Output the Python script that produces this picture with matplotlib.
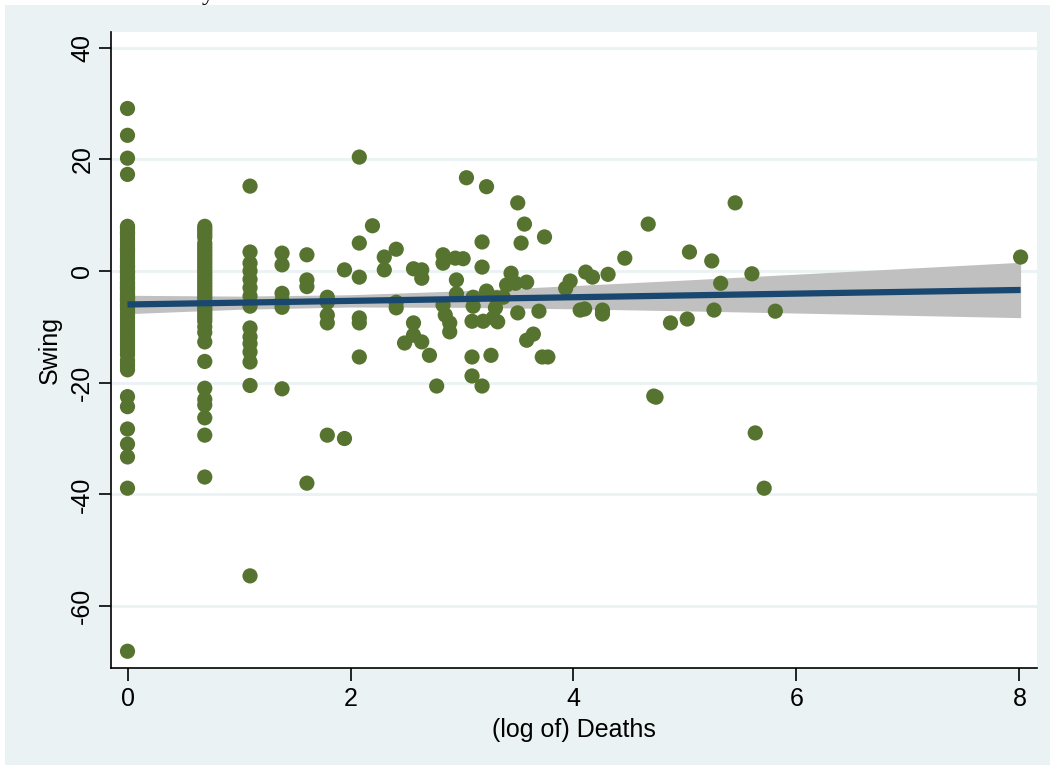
import numpy as np
import matplotlib
matplotlib.use("Agg")
import matplotlib.pyplot as plt
from matplotlib.patches import Rectangle
from matplotlib import font_manager as fm

# ---- data: log(deaths) and swing ----
x0_swing = [29.1, 24.3, 20.2, 17.3, 8, 7.8, 7.5, 7, 6.8, 6.5, 6, 5.5, 5, 4.5, 4, 3.8,
            3.5, 3, 2.5, 2, 1.5, 1, 0.8, 0.5, 0, -0.2,
            -0.5, -1, -1.2, -1.5, -2, -2.2, -2.5, -2.8, -3, -3.2, -3.5, -4, -4.2, -4.5,
            -4.8, -5, -5.2, -5.5, -6, -6.2, -6.5, -7, -7.5,
            -8, -8.5, -9, -9.5, -10, -10.5, -11, -11.5, -12, -12.5, -13, -13.5, -14,
            -14.5, -15, -16, -16.5, -17,
            -17.7, -22.5, -24.3, -28.3, -31, -33.3, -38.9, -68.1]
x1_swing = [8, 7.5, 7, 6.5, 6, 5, 4.5, 4, 3.5, 3, 2.5, 2, 1.5, 1, 0.5, 0, -0.5, -1,
            -1.5, -2, -2.5, -3, -3.5, -4, -4.5, -5, -5.5, -6, -6.5, -7, -7.5, -8,
            -8.5, -9, -10, -11, -12.7, -16.2, -21, -23, -24, -26.3, -29.4, -36.9]
x2_swing = [15.2, 3.4, 1.4, 0, -1.5, -3, -4.5, -6.3, -10.2, -11.8, -13, -14.5,
            -16.3, -20.5, -54.6]

other_x = [1.386, 1.386, 1.386, 1.386, 1.386, 1.386,
           1.609, 1.609, 1.609, 1.609,
           1.792, 1.792, 1.792, 1.792, 1.792,
           1.946, 1.946,
           2.079, 2.079, 2.079, 2.079, 2.079, 2.079,
           2.197, 2.303, 2.303, 2.41, 2.41, 2.41, 2.485,
           2.565, 2.565, 2.565, 2.639, 2.639, 2.639, 2.708, 2.773,
           2.83, 2.83, 2.83, 2.85, 2.89, 2.89, 2.94, 2.95, 2.95, 3.01,
           3.04, 3.09, 3.10, 3.10, 3.09, 3.09, 3.18, 3.18, 3.19, 3.18, 3.22, 3.22,
           3.26, 3.28, 3.31, 3.30, 3.32, 3.37, 3.40, 3.44, 3.48, 3.50, 3.50,
           3.53, 3.56, 3.58, 3.58, 3.64, 3.69, 3.72, 3.74, 3.77,
           3.93, 3.97, 4.06, 4.10, 4.11, 4.17, 4.26, 4.26, 4.31, 4.46, 4.67,
           4.72, 4.74, 4.87, 5.02, 5.04, 5.24, 5.26, 5.32, 5.45, 5.60, 5.63,
           5.71, 5.81, 8.01]
other_y = [3.2, 1.1, -4.0, -5.3, -6.5, -21.1,
           2.9, -1.6, -2.8, -38.0,
           -4.7, -5.6, -7.9, -9.3, -29.4,
           0.2, -30.0,
           20.4, 5.0, -1.1, -8.4, -9.3, -15.4,
           8.1, 2.5, 0.2, 3.9, -5.6, -6.6, -12.9,
           0.4, -9.3, -11.5, 0.2, -1.3, -12.7, -15.1, -20.6,
           2.9, 1.4, -6.1, -7.9, -9.3, -10.9, 2.3, -1.6, -4.1, 2.2,
           16.7, -9.0, -4.7, -6.3, -15.4, -18.8, 5.2, 0.7, -9.0, -20.6, 15.1, -3.6,
           -15.1, -8.4, -4.8, -6.6, -9.1, -4.7, -2.5, -0.4, -2.2, 12.2, -7.5,
           5.0, 8.4, -2.0, -12.4, -11.3, -7.2, -15.4, 6.1, -15.4,
           -3.1, -1.8, -7.0, -6.8, -0.2, -1.1, -7.0, -7.7, -0.6, 2.3, 8.4,
           -22.4, -22.6, -9.3, -8.6, 3.4, 1.8, -7.0, -2.2, 12.2, -0.5, -29.0,
           -38.9, -7.2, 2.5]

x_log2 = 0.693
x_log3 = 1.099

# fitted line and 95% CI band
fit_x = [0.0, 8.01]
fit_y = [-6.0, -3.4]
ci_x = [0.0, 1.0, 2.0, 3.0, 4.0, 5.0, 6.0, 7.0, 8.01]
ci_lo = [-7.65, -6.86, -6.45, -6.51, -6.78, -7.14, -7.53, -7.94, -8.36]
ci_hi = [-4.35, -4.50, -4.25, -3.55, -2.62, -1.62, -0.57, 0.49, 1.56]

xs = np.array([0.0] * len(x0_swing) + [x_log2] * len(x1_swing) + [x_log3] * len(x2_swing) + other_x)
ys = np.array(x0_swing + x1_swing + x2_swing + other_y)

# ---- fonts ----
avail = {f.name for f in fm.fontManager.ttflist}
fam = ['Liberation Sans Narrow', 'Liberation Sans', 'DejaVu Sans'] if 'Liberation Sans Narrow' in avail else ['Liberation Sans', 'DejaVu Sans']
plt.rcParams['font.family'] = fam
plt.rcParams['axes.unicode_minus'] = False

bg = '#EAF2F3'
W, H = 1050, 768
fig = plt.figure(figsize=(W / 100, H / 100), dpi=100, facecolor='white')
fig.patches.append(Rectangle((5 / W, 3 / H), 1 - 5 / W, 1 - 8 / H, transform=fig.transFigure,
                             facecolor=bg, edgecolor='none', zorder=-10))

ax = fig.add_axes([111 / W, 1 - 668 / H, (1037 - 111) / W, (668 - 32) / H])
ax.set_zorder(5)
ax.set_facecolor('white')

ax.fill_between(ci_x, ci_lo, ci_hi, color='#C0C0C0', lw=0, zorder=2)
ax.scatter(xs, ys, s=120, color='#56742F', edgecolors='none', zorder=3)
ax.plot(fit_x, fit_y, color='#1A476F', lw=4.5, solid_capstyle='butt', zorder=4)

ax.set_xlim(-0.148, 8.157)
ax.set_ylim(-71.1, 42.8)
ax.set_xticks([0, 2, 4, 6, 8])
ax.set_yticks([-60, -40, -20, 0, 20, 40])
ax.yaxis.grid(True, color=bg, lw=2, zorder=1)
ax.set_axisbelow(True)
for sp in ['top', 'right']:
    ax.spines[sp].set_visible(False)
for sp in ['left', 'bottom']:
    ax.spines[sp].set_color('black')
    ax.spines[sp].set_linewidth(1.2)
ax.tick_params(axis='both', direction='out', length=9, width=1.2, color='black',
               labelsize=18, pad=5)
ax.tick_params(axis='y', pad=3)
for lab in ax.get_yticklabels():
    lab.set_rotation(90)
    lab.set_va('center')

ax.set_xlabel('(log of) Deaths', fontsize=18, labelpad=5)
ax.set_ylabel('Swing', fontsize=18, labelpad=6)

fig.text(208 / W, 1.0, 'y', fontsize=18, ha='center', va='baseline', family=['Liberation Serif', 'DejaVu Serif'])

fig.savefig('out.png', dpi=100, facecolor='white')
